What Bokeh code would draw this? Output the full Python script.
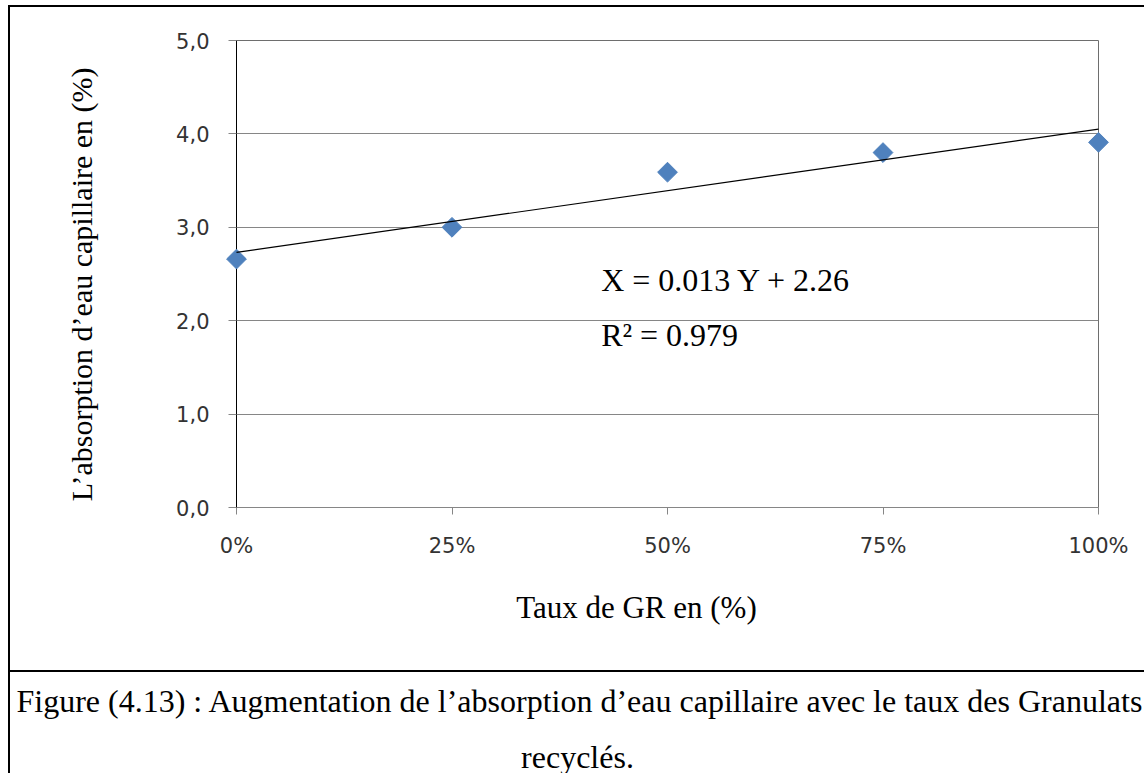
import numpy as np
from bokeh.plotting import figure
from bokeh.models import Range1d, FixedTicker, Label
from bokeh.core.properties import value
from bokeh.layouts import column
from bokeh.embed import file_html
from bokeh.resources import INLINE

# ---------------- data ----------------
taux_gr = [0, 25, 50, 75, 100]
x_tick_labels = ["0%", "25%", "50%", "75%", "100%"]
absorption = [2.66, 3.00, 3.59, 3.80, 3.91]
y_ticks = [0, 1, 2, 3, 4, 5]
y_tick_labels = ["0,0", "1,0", "2,0", "3,0", "4,0", "5,0"]
equation_text = "X = 0.013 Y + 2.26"
r2_text = "R² = 0.979"
x_label = "Taux de GR en (%)"
y_label = "L’absorption d’eau capillaire en (%)"
caption_line1 = "Figure (4.13) : Augmentation de l’absorption d’eau capillaire avec le taux des Granulats"
caption_line2 = "recyclés."

SERIF = "Liberation Serif"
SANS = "DejaVu Sans"
GRID = "#868686"
BLUE = "#4F81BD"

# ---------------- chart ----------------
p = figure(width=1136, height=667, output_backend="svg", toolbar_location=None,
           x_range=Range1d(min(taux_gr), max(taux_gr)), y_range=Range1d(min(y_ticks), max(y_ticks)),
           min_border_left=226, min_border_right=48, min_border_top=33, min_border_bottom=167,
           background_fill_color="white", border_fill_color="white",
           outline_line_color="#6e6e6e", outline_line_width=1, frame_align=False,
           styles={"border-left": "2px solid black", "border-top": "2px solid black",
                   "border-bottom": "2px solid black"})

p.xgrid.visible = False
p.ygrid.grid_line_color = GRID
p.ygrid.grid_line_width = 1

p.yaxis.ticker = FixedTicker(ticks=y_ticks)
p.yaxis.major_label_overrides = {t: l for t, l in zip(y_ticks, y_tick_labels)}
p.yaxis.axis_line_color = "black"
p.yaxis.major_tick_line_color = GRID
p.yaxis.major_tick_out = 8
p.yaxis.major_tick_in = 0
p.yaxis.minor_tick_line_color = None
p.yaxis.major_label_standoff = 19
p.yaxis.major_label_text_font = SANS
p.yaxis.major_label_text_font_size = "21px"
p.yaxis.major_label_text_color = "#333333"

p.xaxis.ticker = FixedTicker(ticks=taux_gr)
p.xaxis.major_label_overrides = {t: l for t, l in zip(taux_gr, x_tick_labels)}
p.xaxis.axis_line_color = GRID
p.xaxis.major_tick_line_color = GRID
p.xaxis.major_tick_out = 7
p.xaxis.major_tick_in = 0
p.xaxis.minor_tick_line_color = None
p.xaxis.major_label_standoff = 19
p.xaxis.major_label_text_font = SANS
p.xaxis.major_label_text_font_size = "21px"
p.xaxis.major_label_text_color = "#333333"

# axis titles, drawn as unclipped text so they sit where the reference has them
p.text(x=[46.4], y=[-1.07], text=[x_label], text_font=value(SERIF), text_font_size="31px",
       text_align="center", text_baseline="middle", text_color="black", level="overlay")
p.text(x=[-18.0], y=[2.39], text=[y_label], text_font=value(SERIF), text_font_size="30px",
       angle=np.pi / 2, text_align="center", text_baseline="middle", text_color="black",
       level="overlay")

p.scatter(taux_gr, absorption, marker="square", angle=np.pi / 4, size=14,
          fill_color=BLUE, line_color=BLUE, level="overlay")

coef = np.polyfit(taux_gr, absorption, 1)
trend_x = np.array([min(taux_gr), max(taux_gr)], dtype=float)
trend_y = np.polyval(coef, trend_x)
p.line(trend_x, trend_y, line_color="black", line_width=1.2, level="overlay")

p.add_layout(Label(x=42.3, y=2.44, text=equation_text, text_font=SERIF,
                   text_font_size="32px", text_baseline="middle", text_color="black"))
p.add_layout(Label(x=42.3, y=1.85, text=r2_text, text_font=SERIF,
                   text_font_size="32px", text_baseline="middle", text_color="black"))

# ---------------- caption ----------------
c = figure(width=1136, height=101, output_backend="svg", toolbar_location=None,
           x_range=Range1d(0, 1134), y_range=Range1d(101, 0), min_border=0,
           outline_line_color=None, background_fill_color="white", border_fill_color="white",
           frame_align=False, styles={"border-left": "2px solid black"})
c.axis.visible = False
c.grid.visible = False
c.add_layout(Label(x=6, y=28, text=caption_line1, text_font=SERIF, text_font_size="32px",
                   text_baseline="middle", text_color="black"))
c.add_layout(Label(x=566, y=84, text=caption_line2, text_font=SERIF, text_font_size="32px",
                   text_baseline="middle", text_align="center", text_color="black"))

layout = column(p, c, spacing=0)
layout.margin = (5, 0, 0, 8)
open("out.html", "w").write(file_html(layout, INLINE))
